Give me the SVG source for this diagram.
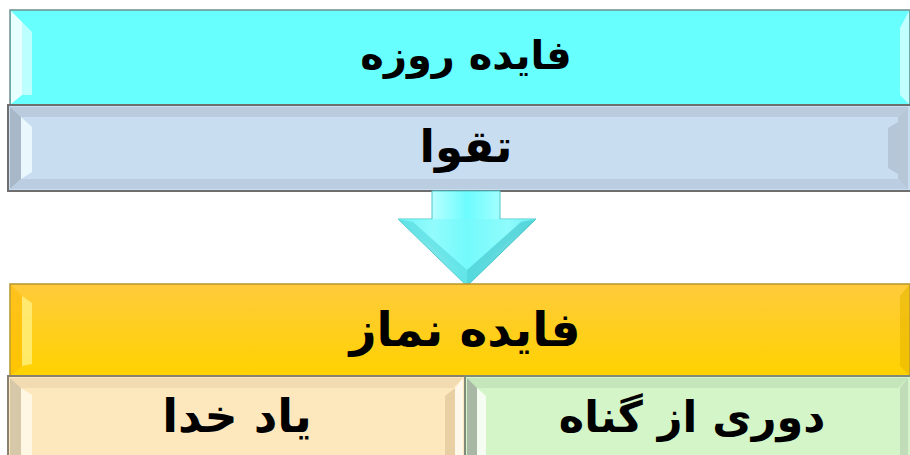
<svg xmlns="http://www.w3.org/2000/svg" width="910" height="455" viewBox="0 0 910 455">
<defs>
<style>
.t{font-family:"DejaVu Sans",sans-serif;font-weight:bold;fill:#000;text-anchor:middle;direction:rtl}
.hl{fill:#fff;opacity:0.55}
</style>
<linearGradient id="gy" x1="0" y1="0" x2="0" y2="1">
<stop offset="0" stop-color="#FFCB3C"/>
<stop offset="1" stop-color="#FFD200"/>
</linearGradient>
<linearGradient id="ga" x1="0" y1="0" x2="1" y2="0">
<stop offset="0" stop-color="#5EEFF0"/>
<stop offset="0.25" stop-color="#B8FFFF"/>
<stop offset="0.5" stop-color="#6CFCFE"/>
<stop offset="0.8" stop-color="#B0FFFF"/>
<stop offset="1" stop-color="#55E0E6"/>
</linearGradient>
</defs>

<g id="node-roze">
<rect x="10" y="10" width="900" height="95" fill="#68FFFF" stroke="#6f8f8f" stroke-width="1.5"/>
<polygon points="11,11 22,22 22,95 11,104" fill="#E8FFFF"/>
<polygon points="22,22 32,32 32,95 22,95" class="hl" opacity="0.3"/>
<polygon points="909,11 909,104 900,95 900,28" fill="#D8FFFF" opacity="0.8"/>
<text class="t" x="466" y="69" font-size="40">فایده روزه</text>
</g>

<g id="node-taqva">
<rect x="8" y="105" width="904" height="86" fill="#C9DDF1" stroke="#6e6e6e" stroke-width="2"/>
<polygon points="10,107 908,107 898,117 21,117" fill="#B9CBDD"/>
<polygon points="10,107 21,117 21,179 10,189" fill="#A9B8C8"/>
<polygon points="21,117 32,127 32,172 21,179" fill="#EAF8FD"/>
<polygon points="10,189 21,179 898,179 908,189" fill="#BBCDE0"/>
<polygon points="908,107 898,117 898,179 908,189" fill="#B8C7D7"/>
<polygon points="898,122 898,174 888,168 888,128" fill="#A7B7C7" opacity="0.6"/>
<text class="t" x="466" y="162" font-size="45">تقوا</text>
</g>

<g id="connectors">
<polygon points="432,191 500,191 500,219 536,219 467,286 398,219 432,219" fill="url(#ga)" stroke="#4ec4c8" stroke-width="1"/>
<polygon points="398,219 536,219 522,230 467,276 412,230" fill="#7AF8FA" opacity="0.6"/>
<polygon points="398,219 467,286 467,270 413,222" fill="#5DDCE0" opacity="0.7"/>
<polygon points="536,219 467,286 467,270 521,222" fill="#49CBD0" opacity="0.7"/>
</g>

<g id="node-namaz">
<rect x="10" y="284" width="900" height="92" fill="url(#gy)" stroke="#B8962A" stroke-width="1.5"/>
<polygon points="11,285 22,296 22,366 11,375" fill="#FFB800" opacity="0.5"/>
<polygon points="22,296 32,303 32,364 22,366" fill="#FFF080" opacity="0.8"/>
<polygon points="909,285 909,375 900,366 900,296" fill="#E8B800" opacity="0.6"/>
<text class="t" x="465" y="346" font-size="47">فایده نماز</text>
</g>

<g id="node-yad">
<rect x="8" y="376" width="457" height="85" fill="#FDE8BE" stroke="#8a8070" stroke-width="2"/>
<polygon points="10,378 463,378 453,388 21,388" fill="#F2DBB0"/>
<polygon points="10,378 21,388 21,455 10,455" fill="#D8C8AA"/>
<polygon points="21,388 32,395 32,455 21,455" fill="#FFF6E4"/>
<polygon points="463,378 463,455 455,455 455,388" fill="#FFF8EA"/>
<polygon points="455,388 445,396 445,455 455,455" fill="#E8CFA4"/>
<text class="t" x="237" y="432" font-size="46">یاد خدا</text>
</g>

<g id="node-gonah">
<rect x="465" y="376" width="447" height="85" fill="#D3F5C8" stroke="#7f8a7a" stroke-width="2"/>
<polygon points="467,378 908,378 898,388 477,388" fill="#C4E6BA"/>
<polygon points="467,378 477,388 477,455 467,455" fill="#A8B8A4"/>
<polygon points="477,388 486,396 486,455 477,455" fill="#F5FDF2"/>
<polygon points="908,378 908,455 900,455 900,388" fill="#C0DCB8"/>
<text class="t" x="692" y="432" font-size="43">دوری از گناه</text>
</g>
</svg>
